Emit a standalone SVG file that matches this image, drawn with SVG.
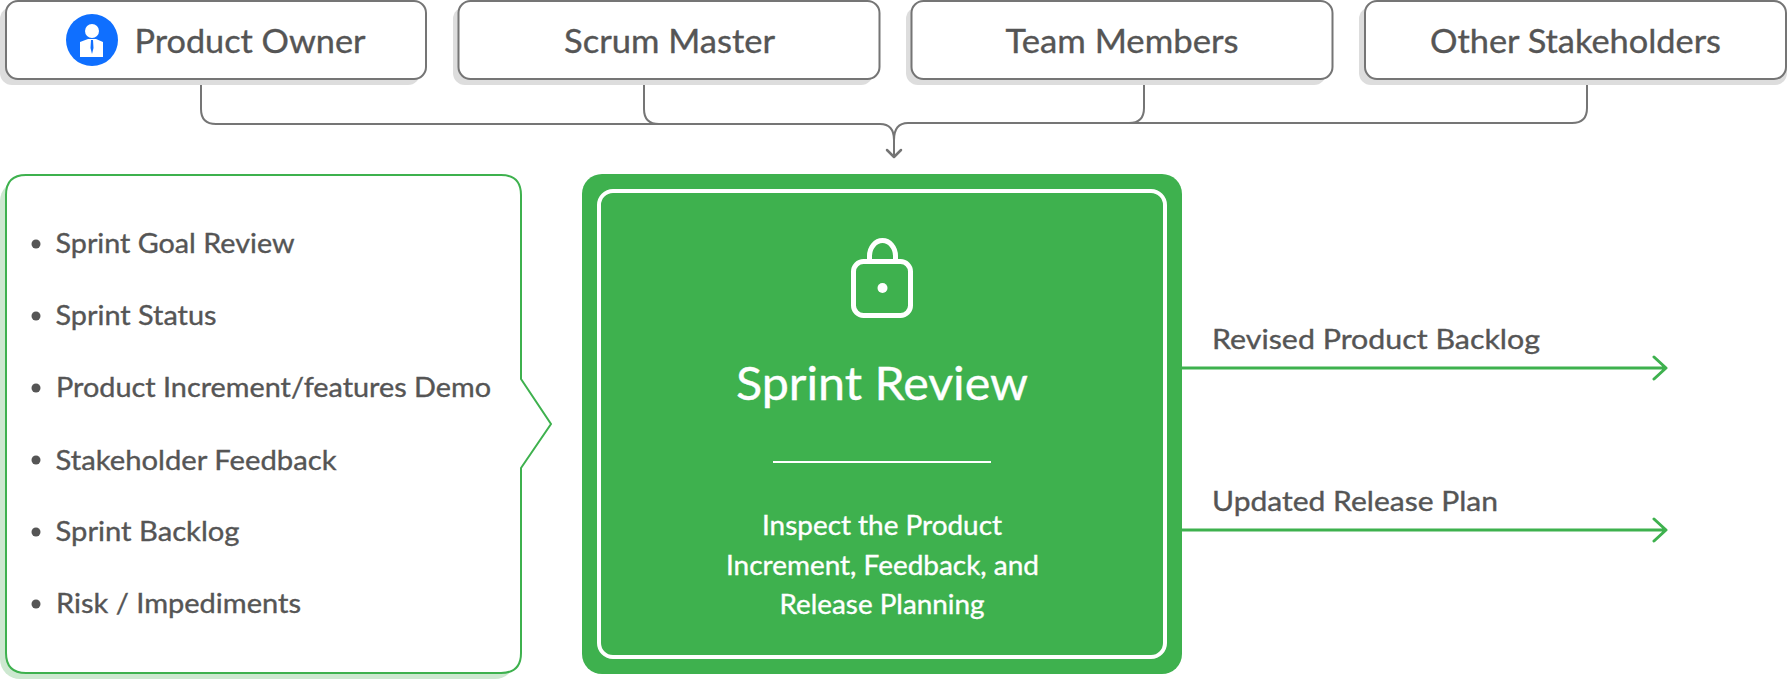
<svg xmlns="http://www.w3.org/2000/svg" width="1787" height="679" viewBox="0 0 1787 679">
<style>
text{font-family:"Lato","Liberation Sans",sans-serif;fill:#555;stroke:#555;stroke-width:.35px;}
.role{font-size:32px;}
.item{font-size:27px;}
.out{font-size:27px;}
.light{fill:#fff;stroke:#fff;}
.shadow{fill:#ddd;}
.box{fill:#fff;stroke:#757575;stroke-width:2;}
.conn{fill:none;stroke:#757575;stroke-width:2;}
.gconn{fill:none;stroke:#3eb14e;stroke-width:3;stroke-linecap:round;stroke-linejoin:round;}
.bullet{fill:#555;}
</style>
<rect width="1787" height="679" fill="#fff"/>
<g id="connectors">
<path class="conn" d="M201 80V109Q201 124 216 124H880Q894 124 894 140"/>
<path class="conn" d="M644 80V109Q644 124 659 124"/>
<path class="conn" d="M1144 80V108Q1144 123 1129 123H908Q894 123 894 140V156"/>
<path class="conn" d="M1587 80V108Q1587 123 1572 123H1129"/>
<path class="conn" stroke-width="2.500" style="stroke-width:2.500" stroke-linecap="round" stroke-linejoin="round" d="M887 150L894 157L901 150"/>
<path class="gconn" d="M1182 368H1665M1654 357L1666 368L1654 379"/>
<path class="gconn" d="M1182 530H1665M1654 519L1666 530L1654 541"/>
</g>
<g id="product-owner">
<rect class="shadow" x="0" y="7" width="420" height="78" rx="12"/>
<rect class="box" x="6" y="1" width="420" height="78" rx="12"/>
<circle cx="92" cy="40" r="26" fill="#0f6fff"/>
<circle cx="92" cy="31" r="7" fill="#fff"/>
<path d="M80 42L88 39H96L103 42V57H80Z" fill="#fff"/>
<path d="M91 40H93L93.500 48L92 54L90.500 48Z" fill="#0f6fff"/>
<text class="role" x="134.500" y="53" textLength="231" lengthAdjust="spacingAndGlyphs">Product Owner</text>
</g>
<g id="scrum-master">
<rect class="shadow" x="453" y="7" width="420" height="78" rx="12"/>
<rect class="box" x="458.500" y="1" width="421" height="78" rx="12"/>
<text class="role" x="564" y="53" textLength="211" lengthAdjust="spacingAndGlyphs">Scrum Master</text>
</g>
<g id="team-members">
<rect class="shadow" x="906" y="7" width="420" height="78" rx="12"/>
<rect class="box" x="911.500" y="1" width="421" height="78" rx="12"/>
<text class="role" x="1005.500" y="53" textLength="233" lengthAdjust="spacingAndGlyphs">Team Members</text>
</g>
<g id="other-stakeholders">
<rect class="shadow" x="1359" y="7" width="428" height="78" rx="12"/>
<rect class="box" x="1365" y="1" width="421" height="78" rx="12"/>
<text class="role" x="1430" y="53" textLength="291" lengthAdjust="spacingAndGlyphs">Other Stakeholders</text>
</g>
<g id="inputs">
<rect x="0" y="181" width="515" height="498" rx="20" fill="#cde8d0"/>
<path d="M26 175H501Q521 175 521 195V379L551 424L521 468V653Q521 673 501 673H26Q6 673 6 653V195Q6 175 26 175Z" fill="#fff" stroke="#3eb14e" stroke-width="2"/>
<circle class="bullet" cx="36" cy="244" r="4.500"/><text class="item" x="55.500" y="253" textLength="239" lengthAdjust="spacingAndGlyphs">Sprint Goal Review</text>
<circle class="bullet" cx="36" cy="316" r="4.500"/><text class="item" x="55.500" y="325" textLength="161" lengthAdjust="spacingAndGlyphs">Sprint Status</text>
<circle class="bullet" cx="36" cy="388" r="4.500"/><text class="item" x="56" y="397" textLength="435" lengthAdjust="spacingAndGlyphs">Product Increment/features Demo</text>
<circle class="bullet" cx="36" cy="460" r="4.500"/><text class="item" x="55.500" y="469.500" textLength="281" lengthAdjust="spacingAndGlyphs">Stakeholder Feedback</text>
<circle class="bullet" cx="36" cy="532" r="4.500"/><text class="item" x="55.500" y="541" textLength="184" lengthAdjust="spacingAndGlyphs">Sprint Backlog</text>
<circle class="bullet" cx="36" cy="604" r="4.500"/><text class="item" x="56" y="613" textLength="245" lengthAdjust="spacingAndGlyphs">Risk / Impediments</text>
</g>
<g id="sprint-review">
<rect x="582" y="174" width="600" height="500" rx="20" fill="#3eb14e"/>
<rect x="599" y="191" width="566" height="466" rx="14" fill="none" stroke="#fff" stroke-width="4"/>
<rect x="853.500" y="261.500" width="57" height="54" rx="10" fill="none" stroke="#fff" stroke-width="5"/>
<path d="M869.500 261V256A13 15.500 0 0 1 895.500 256V261" fill="none" stroke="#fff" stroke-width="5"/>
<circle cx="882.500" cy="288" r="5" fill="#fff"/>
<text class="light" x="736" y="400" font-size="46" textLength="292" lengthAdjust="spacingAndGlyphs">Sprint Review</text>
<rect x="773" y="461" width="218" height="2" fill="#fff"/>
<text class="light" x="762" y="535" font-size="26" textLength="240" lengthAdjust="spacingAndGlyphs">Inspect the Product</text>
<text class="light" x="726" y="575" font-size="26" textLength="313" lengthAdjust="spacingAndGlyphs">Increment, Feedback, and</text>
<text class="light" x="779.500" y="614" font-size="26" textLength="205" lengthAdjust="spacingAndGlyphs">Release Planning</text>
</g>
<g id="outputs">
<text class="out" x="1212" y="349" textLength="328" lengthAdjust="spacingAndGlyphs">Revised Product Backlog</text>
<text class="out" x="1212" y="511" textLength="286" lengthAdjust="spacingAndGlyphs">Updated Release Plan</text>
</g>
</svg>
